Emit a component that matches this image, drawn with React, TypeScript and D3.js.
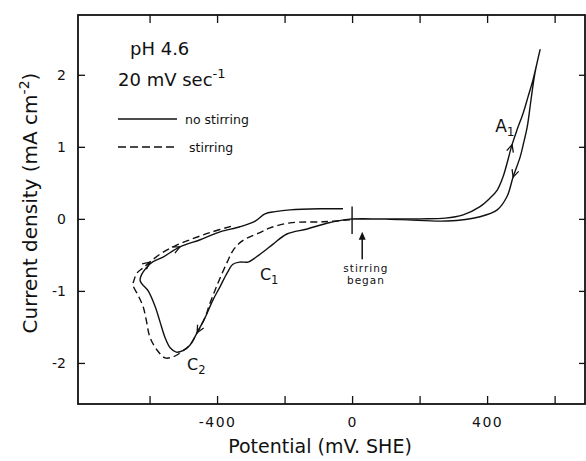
import React, { useRef, useEffect } from 'react';
import * as d3 from 'd3';

// potential (mV vs SHE) / current density (mA cm^-2)
const noStirring: [number, number][] = [
  [0, 0], [201, 0], [276, 0.01], [329, 0.056], [379, 0.17], [409, 0.29], [430, 0.4],
  [447, 0.58], [474, 1.03], [489, 1.24], [507, 1.47], [521, 1.69], [536, 1.93], [557, 2.35],
  [542, 2.03], [530, 1.65], [519, 1.28], [507, 1.03], [498, 0.86], [477, 0.58], [459, 0.31],
  [430, 0.125], [379, 0.03], [281, -0.03], [142, -0.01], [0, 0],
  [-65, -0.05], [-133, -0.14], [-193, -0.21], [-234, -0.35], [-258, -0.44], [-284, -0.53],
  [-308, -0.6], [-332, -0.6], [-353, -0.63], [-370, -0.75], [-391, -0.94], [-412, -1.125],
  [-436, -1.375], [-459, -1.58], [-480, -1.75], [-501, -1.83], [-521, -1.85], [-539, -1.79],
  [-554, -1.65], [-569, -1.43], [-584, -1.21], [-604, -1.0], [-628, -0.85],
  [-599, -0.625], [-560, -0.53], [-510, -0.39], [-450, -0.29], [-391, -0.18], [-332, -0.11],
  [-287, -0.03], [-258, 0.07], [-228, 0.1], [-184, 0.125], [-95, 0.14], [-27, 0.14],
];

const stirring: [number, number][] = [
  [-6, -0.014], [-86, -0.04], [-184, -0.056], [-243, -0.125], [-273, -0.19], [-308, -0.26],
  [-332, -0.33], [-353, -0.44], [-370, -0.6], [-391, -0.82], [-406, -0.99], [-421, -1.17],
  [-436, -1.375], [-459, -1.58], [-480, -1.75], [-501, -1.83], [-519, -1.89], [-533, -1.92],
  [-554, -1.93], [-578, -1.82], [-599, -1.64], [-610, -1.4], [-619, -1.22], [-634, -1.06],
  [-649, -0.92], [-646, -0.85], [-637, -0.75], [-619, -0.68], [-599, -0.6], [-569, -0.49],
  [-524, -0.375], [-480, -0.29], [-421, -0.19], [-356, -0.1],
];

// scan-direction arrows: [E, I] near which the chevron sits
const solidArrows: [number, number][] = [[474, 1.03], [477, 0.58], [-459, -1.58], [-510, -0.39]];
const dashedArrows: [number, number][] = [[-599, -0.6]];

const xTicks = [-600, -400, -200, 0, 200, 400, 600];
const xLabelled = [-400, 0, 400];
const yTicks = [-2, -1, 0, 1, 2];

const FONT = '"DejaVu Sans", Verdana, sans-serif';
const INK = '#111';

const App = () => {
  const svgRef = useRef<SVGSVGElement>(null);

  useEffect(() => {
    const svg = d3.select(svgRef.current);
    svg.selectAll('*').remove();

    const x = d3.scaleLinear().domain([-812, 693]).range([78, 586]);
    const y = d3.scaleLinear().domain([-2.57, 2.83]).range([404, 15]);
    const fmt = (d: number) => (d < 0 ? '-' + Math.abs(d) : String(d));

    const g = svg.append('g').attr('font-family', FONT);

    // axes, ticks pointing inward
    const bottom = g.append('g').attr('transform', 'translate(0,404)')
      .call(d3.axisBottom(x).tickValues(xTicks).tickSizeInner(-8).tickSizeOuter(0).tickPadding(13)
        .tickFormat((d: any) => (xLabelled.includes(d) ? fmt(d) : '')));
    const top = g.append('g').attr('transform', 'translate(0,15)')
      .call(d3.axisTop(x).tickValues(xTicks).tickSizeInner(-8).tickSizeOuter(0).tickFormat(() => ''));
    const left = g.append('g').attr('transform', 'translate(78,0)')
      .call(d3.axisLeft(y).tickValues(yTicks).tickSizeInner(-7).tickSizeOuter(0).tickPadding(12)
        .tickFormat((d: any) => fmt(d)));
    const right = g.append('g').attr('transform', 'translate(585,0)')
      .call(d3.axisRight(y).tickValues(yTicks).tickSizeInner(-6).tickSizeOuter(0).tickFormat(() => ''));
    [bottom, top, left, right].forEach(a => {
      a.select('.domain').remove();
      a.selectAll('line').attr('stroke', INK).attr('stroke-width', 1.3);
      a.selectAll('text').attr('font-family', FONT).attr('font-size', 14).attr('fill', INK);
    });
    bottom.selectAll('text').attr('letter-spacing', 1.5);

    g.append('rect')
      .attr('x', 78).attr('y', 15).attr('width', 507).attr('height', 389)
      .attr('fill', 'none').attr('stroke', INK).attr('stroke-width', 1.8);

    // curves
    const line = d3.line<[number, number]>()
      .x(d => x(d[0])).y(d => y(d[1]))
      .curve(d3.curveCatmullRom.alpha(0.5));

    g.append('path').attr('d', line(noStirring))
      .attr('fill', 'none').attr('stroke', INK).attr('stroke-width', 1.4);
    g.append('path').attr('d', line(stirring))
      .attr('fill', 'none').attr('stroke', INK).attr('stroke-width', 1.4)
      .attr('stroke-dasharray', '7,4');

    // chevrons along the scan direction
    const chevron = (series: [number, number][], at: [number, number]) => {
      const pts = series.map(d => [x(d[0]), y(d[1])]);
      const tx = x(at[0]), ty = y(at[1]);
      let k = 0;
      pts.forEach((p, i) => {
        if (Math.hypot(p[0] - tx, p[1] - ty) < Math.hypot(pts[k][0] - tx, pts[k][1] - ty)) k = i;
      });
      const a = pts[Math.max(k - 1, 0)], b = pts[Math.min(k + 1, pts.length - 1)];
      const ang = Math.atan2(b[1] - a[1], b[0] - a[0]);
      const [px, py] = pts[k];
      const len = 8, spread = 0.45;
      const p1 = [px - len * Math.cos(ang - spread), py - len * Math.sin(ang - spread)];
      const p2 = [px - len * Math.cos(ang + spread), py - len * Math.sin(ang + spread)];
      g.append('path')
        .attr('d', `M${p1[0]},${p1[1]}L${px},${py}L${p2[0]},${p2[1]}`)
        .attr('fill', 'none').attr('stroke', INK).attr('stroke-width', 1.3);
    };
    solidArrows.forEach(a => chevron(noStirring, a));
    dashedArrows.forEach(a => chevron(stirring, a));

    // "stirring began" marker at 0 mV
    g.append('line')
      .attr('x1', x(0)).attr('x2', x(0)).attr('y1', y(0.17)).attr('y2', y(-0.21))
      .attr('stroke', INK).attr('stroke-width', 1.4);
    g.append('line')
      .attr('x1', x(30)).attr('x2', x(30)).attr('y1', y(-0.56)).attr('y2', y(-0.26))
      .attr('stroke', INK).attr('stroke-width', 1.5);
    g.append('path')
      .attr('d', `M${x(30)},${y(-0.18)}l-3.5,8h7z`).attr('fill', INK);
    const sb = g.append('text').attr('text-anchor', 'middle').attr('font-size', 10.5)
      .attr('letter-spacing', 1).attr('fill', INK);
    sb.append('tspan').attr('x', x(41)).attr('y', y(-0.74)).text('stirring');
    sb.append('tspan').attr('x', x(41)).attr('y', y(-0.9)).text('began');

    // peak labels
    const sub = (lab: string, s: string, E: number, I: number, size: number) => {
      const t = g.append('text').attr('x', x(E)).attr('y', y(I)).attr('font-size', size).attr('fill', INK);
      t.append('tspan').text(lab);
      t.append('tspan').attr('font-size', size * 0.72).attr('dy', 4).text(s);
    };
    sub('A', '1', 424, 1.2, 17);
    sub('C', '1', -273, -0.85, 16);
    sub('C', '2', -489, -2.1, 16);

    // conditions and legend
    g.append('text').attr('x', 130).attr('y', 55).attr('font-size', 18).attr('fill', INK).text('pH 4.6');
    const rate = g.append('text').attr('x', 118).attr('y', 86).attr('font-size', 18).attr('fill', INK);
    rate.append('tspan').text('20 mV sec');
    rate.append('tspan').attr('font-size', 13).attr('dy', -8).text('-1');

    g.append('line').attr('x1', 118).attr('x2', 177).attr('y1', 119).attr('y2', 119)
      .attr('stroke', INK).attr('stroke-width', 1.4);
    g.append('text').attr('x', 185).attr('y', 123.5).attr('font-size', 12.5).attr('fill', INK).text('no stirring');
    g.append('line').attr('x1', 118).attr('x2', 174).attr('y1', 147).attr('y2', 147)
      .attr('stroke', INK).attr('stroke-width', 1.4).attr('stroke-dasharray', '8,4');
    g.append('text').attr('x', 189).attr('y', 151.5).attr('font-size', 12.5).attr('fill', INK).text('stirring');

    // axis titles
    g.append('text').attr('x', 320).attr('y', 453).attr('text-anchor', 'middle')
      .attr('font-size', 19).attr('fill', INK).text('Potential (mV. SHE)');
    const yt = g.append('text').attr('transform', 'translate(37,203) rotate(-90)')
      .attr('text-anchor', 'middle').attr('font-size', 20).attr('fill', INK);
    yt.append('tspan').text('Current density (mA cm');
    yt.append('tspan').attr('font-size', 14).attr('dy', -8).text('-2');
    yt.append('tspan').attr('dy', 8).text(')');
  }, []);

  return (
    <svg ref={svgRef} width={586} height={461}
      style={{ position: 'absolute', left: 0, top: 0, background: '#fff' }} />
  );
};

export default App;
